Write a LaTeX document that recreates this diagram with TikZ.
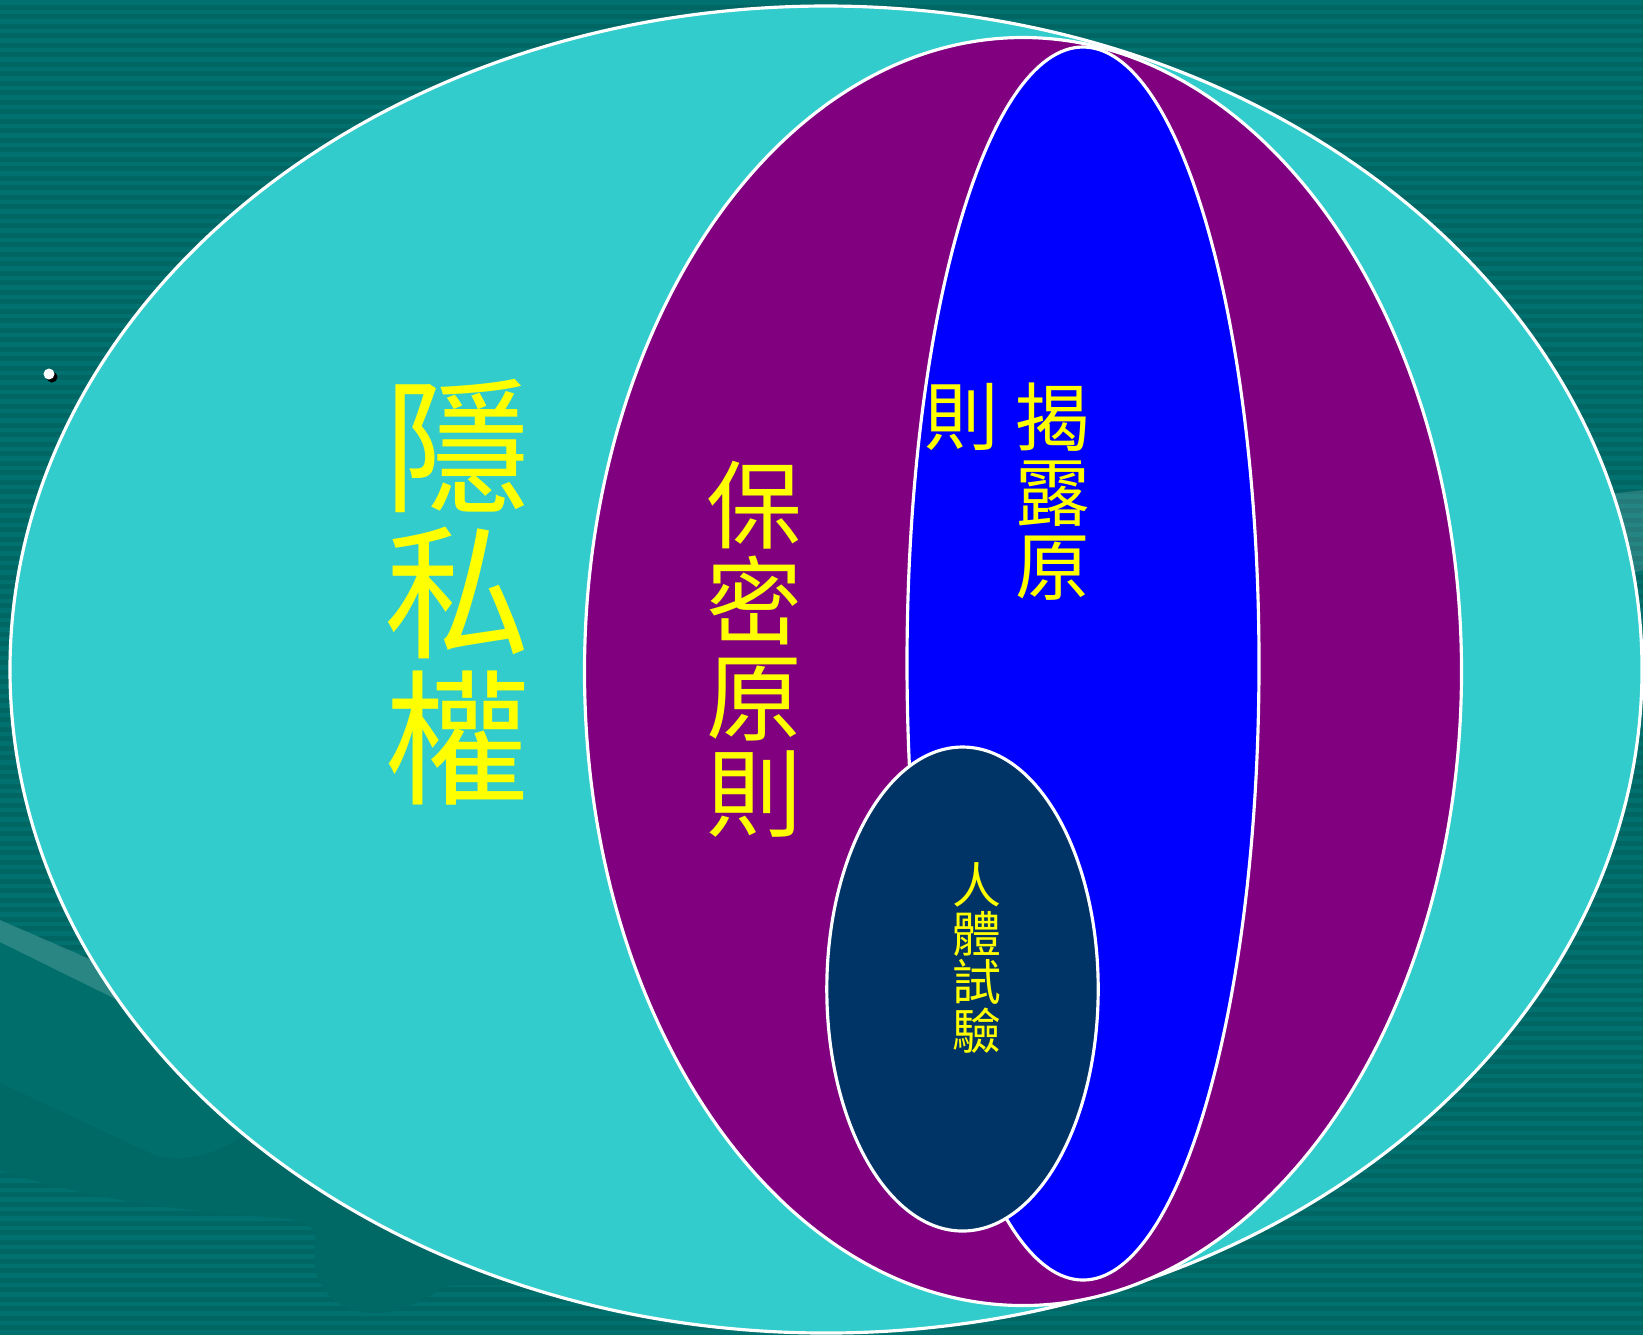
\documentclass[tikz,border=0pt]{standalone}
\usepackage{fontspec}
\newfontfamily\cjk{Noto Sans CJK TC}
\definecolor{bgdark}{RGB}{0,102,100}
\definecolor{bglight}{RGB}{0,113,110}
\definecolor{flatlight}{RGB}{0,111,108}
\definecolor{flatdark}{RGB}{0,104,101}
\definecolor{privcyan}{RGB}{51,204,204}
\definecolor{confpurple}{RGB}{128,0,128}
\definecolor{discblue}{RGB}{0,0,255}
\definecolor{trialnavy}{RGB}{0,51,102}
\definecolor{txtyellow}{RGB}{255,255,0}
\begin{document}
\begin{tikzpicture}[x=0.01cm,y=-0.01cm,
  zone/.style={draw=white, line width=0.9pt},
  cjktext/.style={text=txtyellow, align=center, inner sep=0pt}]
\useasboundingbox (0,0) rectangle (1643,1335);
% striped background
\fill[bgdark] (0,0) rectangle (1643,1335);
\foreach \i in {0,...,140} \fill[bglight] (0,9.5*\i) rectangle (1643,9.5*\i+4.5);
% background decorations (lower left)
\fill[flatlight] (0,920) -- (400,1100) -- (400,1140) -- (240,1137)
   .. controls (210,1160) and (170,1162) .. (150,1153) -- (0,1083) -- cycle;
\fill[flatdark] (0,1083) -- (150,1153) .. controls (170,1162) and (210,1160) .. (240,1137)
   -- (560,1150) -- (560,1285) -- (450,1285)
   .. controls (420,1300) and (400,1315) .. (370,1313)
   .. controls (330,1310) and (310,1280) .. (315,1245)
   .. controls (320,1225) and (300,1220) .. (280,1218)
   .. controls (200,1212) and (100,1203) .. (0,1170) -- cycle;
\fill[white, opacity=0.16] (0,920) -- (300,1050) -- (300,1090) -- (0,942) -- cycle;
% background decoration (right)
\fill[white, opacity=0.14] (1560,500) -- (1643,490) -- (1643,570) -- (1560,590) -- cycle;
% bullet
\fill[black] (52,377) circle (5.5);
\fill[white] (49,374) circle (5.5);
% nested regions
\draw[zone, fill=privcyan] (826,669.5) ellipse [x radius=816, y radius=663.5];
\draw[zone, fill=confpurple] (1023,671.5) ellipse [x radius=438.5, y radius=634];
\draw[zone, fill=discblue] (1083,663.5) ellipse [x radius=176, y radius=616.5];
\draw[zone, fill=trialnavy] (962.5,989) ellipse [x radius=135.7, y radius=242];
% labels
\node[cjktext, font=\cjk\fontsize{41.5}{41.5}\selectfont] (privacy) at (457,592) {隱\\私\\權};
\node[cjktext, font=\cjk\fontsize{27.3}{27.3}\selectfont] (confidentiality) at (754,649) {保\\密\\原\\則};
\node[cjktext, font=\cjk\fontsize{21.2}{21.2}\selectfont] (disclosure) at (1053,492) {揭\\露\\原};
\node[cjktext, font=\cjk\fontsize{21.2}{21.2}\selectfont] (disclosureb) at (962,417) {則};
\node[cjktext, font=\cjk\fontsize{13.9}{13.9}\selectfont] (trial) at (977,958) {人\\體\\試\\驗};
\end{tikzpicture}
\end{document}
